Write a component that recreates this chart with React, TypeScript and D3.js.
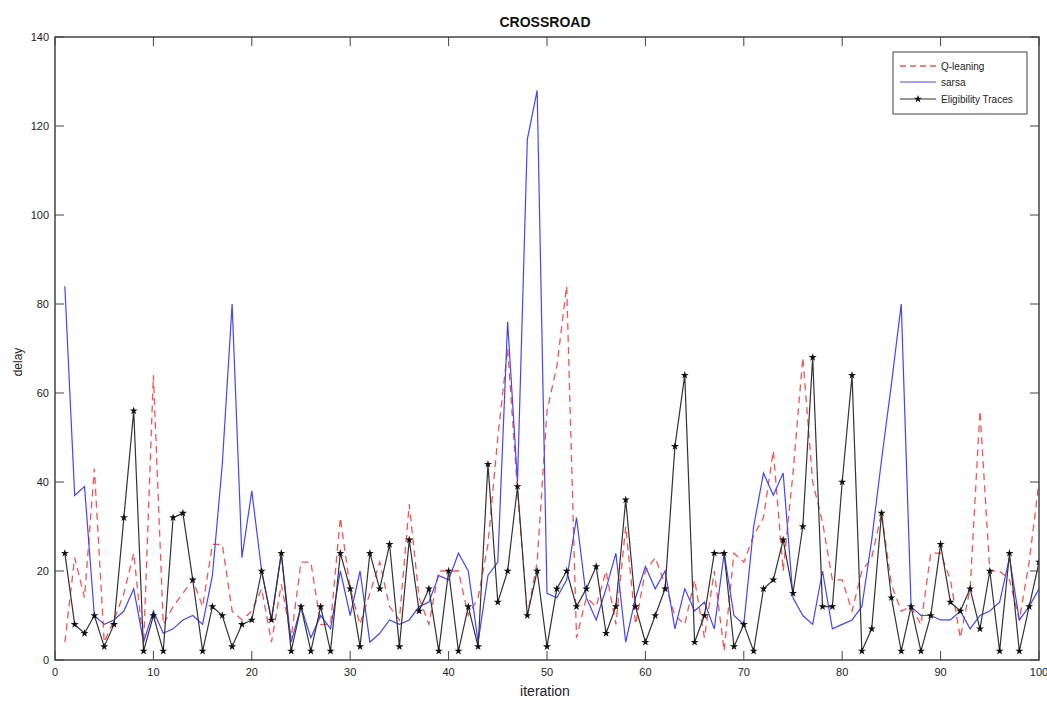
import React from "react";
import * as d3 from "d3";

const iterations: number[] = d3.range(1, 101);

const qLearning: number[] = [
  4, 23, 14, 43, 4, 9, 15, 24, 3, 64,
  8, 12, 15, 18, 12, 26, 26, 11, 9, 11,
  16, 4, 17, 5, 22, 22, 8, 8, 32, 16,
  8, 15, 22, 12, 9, 35, 14, 8, 20, 20,
  20, 10, 14, 26, 50, 70, 38, 10, 22, 56,
  66, 84, 5, 14, 12, 20, 8, 30, 8, 20,
  23, 17, 10, 8, 18, 5, 20, 2, 24, 22,
  28, 32, 47, 20, 42, 68, 40, 31, 18, 18,
  11, 20, 23, 33, 17, 11, 12, 8, 24, 24,
  18, 5, 16, 56, 20, 20, 18, 9, 22, 40,
];

const sarsa: number[] = [
  84, 37, 39, 10, 8, 9, 11, 16, 4, 11,
  6, 7, 9, 10, 8, 19, 44, 80, 23, 38,
  20, 9, 24, 4, 12, 5, 10, 7, 20, 10,
  20, 4, 6, 9, 8, 9, 12, 13, 19, 18,
  24, 20, 4, 19, 22, 76, 40, 117, 128, 15,
  14, 18, 32, 14, 9, 16, 24, 4, 14, 21,
  16, 20, 7, 16, 11, 13, 7, 24, 10, 8,
  30, 42, 37, 42, 14, 10, 8, 20, 7, 8,
  9, 12, 27, 45, 62, 80, 12, 10, 10, 9,
  9, 11, 7, 10, 11, 13, 23, 9, 12, 16,
];

const eligibility: number[] = [
  24, 8, 6, 10, 3, 8, 32, 56, 2, 10,
  2, 32, 33, 18, 2, 12, 10, 3, 8, 9,
  20, 9, 24, 2, 12, 2, 12, 2, 24, 16,
  3, 24, 16, 26, 3, 27, 11, 16, 2, 20,
  2, 12, 3, 44, 13, 20, 39, 10, 20, 3,
  16, 20, 12, 16, 21, 6, 12, 36, 12, 4,
  10, 16, 48, 64, 4, 10, 24, 24, 3, 8,
  2, 16, 18, 27, 15, 30, 68, 12, 12, 40,
  64, 2, 7, 33, 14, 2, 12, 2, 10, 26,
  13, 11, 16, 7, 20, 2, 24, 2, 12, 22,
];

const xTicks: number[] = d3.range(0, 101, 10);
const yTicks: number[] = d3.range(0, 141, 20);
const seriesNames: string[] = ["Q-leaning", "sarsa", "Eligibility Traces"];

const W = 1047;
const H = 709;
const L = 55, R = 1039, T = 37, B = 660;

export default function App() {
  const x = d3.scaleLinear().domain([0, 100]).range([L, R]);
  const y = d3.scaleLinear().domain([0, 140]).range([B, T]);
  const line = d3
    .line<number>()
    .x((_, i) => x(iterations[i]))
    .y((d) => y(d));
  const star = d3.symbol().type(d3.symbolStar).size(20)() as string;
  const font = "'Liberation Sans', Arial, sans-serif";
  const tick = 9;
  const axisColor = "#444";
  const red = "#f25555";
  const blue = "#4545f2";
  const black = "#333";

  return (
    <svg
      width={W}
      height={H}
      style={{ position: "absolute", left: 0, top: 0, background: "#fff" }}
      fontFamily={font}
    >
      <rect x={0} y={0} width={W} height={H} fill="#fff" />
      <text x={545} y={27} textAnchor="middle" fontWeight="bold" fontSize={14} fill="#111">
        CROSSROAD
      </text>

      <defs>
        <clipPath id="clip">
          <rect x={L} y={T} width={R - L} height={B - T} />
        </clipPath>
      </defs>
      <g clipPath="url(#clip)">
        <path d={line(qLearning) || ""} fill="none" stroke={red} strokeWidth={1.3} strokeDasharray="7,5" />
        <path d={line(sarsa) || ""} fill="none" stroke={blue} strokeWidth={1.2} />
        <path d={line(eligibility) || ""} fill="none" stroke={black} strokeWidth={1.2} />
        {eligibility.map((v, i) => (
          <path key={i} d={star} transform={`translate(${x(iterations[i])},${y(v)})`} fill="#111" />
        ))}
      </g>

      <rect x={L} y={T} width={R - L} height={B - T} fill="none" stroke={axisColor} strokeWidth={1.5} />

      {xTicks.map((t) => (
        <g key={"x" + t}>
          <line x1={x(t)} x2={x(t)} y1={B} y2={B - tick} stroke={axisColor} />
          <line x1={x(t)} x2={x(t)} y1={T} y2={T + tick} stroke={axisColor} />
          <text x={x(t)} y={B + 16} textAnchor="middle" fontSize={11} fill="#222">
            {t}
          </text>
        </g>
      ))}
      {yTicks.map((t) => (
        <g key={"y" + t}>
          <line x1={L} x2={L + tick} y1={y(t)} y2={y(t)} stroke={axisColor} />
          <line x1={R} x2={R - tick} y1={y(t)} y2={y(t)} stroke={axisColor} />
          <text x={L - 6} y={y(t) + 4} textAnchor="end" fontSize={11} fill="#222">
            {t}
          </text>
        </g>
      ))}

      <text x={545} y={696} textAnchor="middle" fontSize={14} fill="#222">
        iteration
      </text>
      <text transform="translate(22,362) rotate(-90)" textAnchor="middle" fontSize={12} fill="#222">
        delay
      </text>

      <g>
        <rect x={893} y={52} width={134} height={62} fill="#fff" stroke={axisColor} strokeWidth={1} />
        <line x1={900} x2={936} y1={66} y2={66} stroke={red} strokeWidth={1.3} strokeDasharray="6,4" />
        <text x={941} y={70} fontSize={10} fill="#222">{seriesNames[0]}</text>
        <line x1={900} x2={936} y1={82} y2={82} stroke={blue} strokeWidth={1.2} />
        <text x={941} y={86} fontSize={10} fill="#222">{seriesNames[1]}</text>
        <line x1={900} x2={936} y1={99} y2={99} stroke={black} strokeWidth={1.2} />
        <path d={star} transform="translate(918,99)" fill="#111" />
        <text x={941} y={103} fontSize={10} fill="#222">{seriesNames[2]}</text>
      </g>
    </svg>
  );
}
